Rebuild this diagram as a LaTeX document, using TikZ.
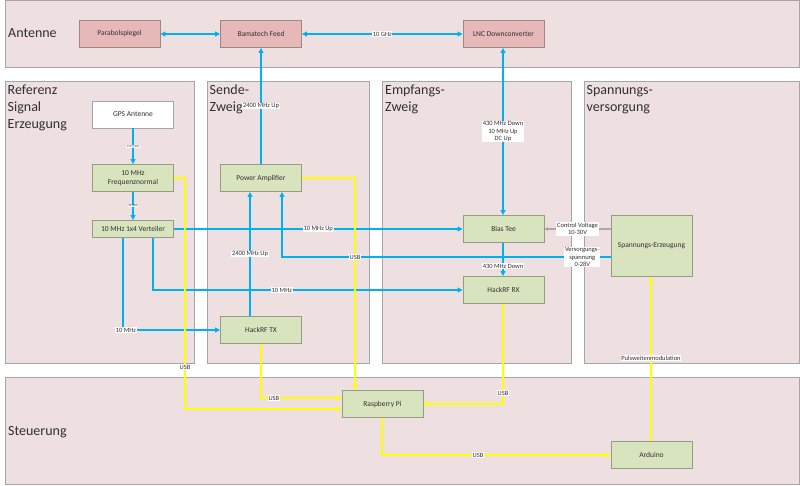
\documentclass[tikz,border=0pt]{standalone}
\usepackage{fontspec}
\setmainfont{Carlito}
\usetikzlibrary{arrows.meta,calc}
\definecolor{panelfill}{HTML}{EEE0E0}
\definecolor{panelline}{HTML}{A6A6A6}
\definecolor{redfill}{HTML}{E6B8B7}
\definecolor{redline}{HTML}{A08585}
\definecolor{greenfill}{HTML}{D7E4BD}
\definecolor{greenline}{HTML}{949C84}
\definecolor{sky}{HTML}{00B0F0}
\definecolor{usbyellow}{HTML}{FFFF00}
\definecolor{ctrlgray}{HTML}{B4A6A6}
\definecolor{txt}{HTML}{303030}
\begin{document}
\begin{tikzpicture}[x=1pt,y=-1pt,
  >={Triangle[length=5pt,width=5pt]},
  panel/.style={draw=panelline, fill=panelfill, line width=0.9pt},
  box/.style={draw, line width=0.9pt, minimum width=81pt, minimum height=27pt, inner sep=0pt,
    font=\fontsize{7.5}{9}\selectfont, align=center, text=txt},
  redbox/.style={box, fill=redfill, draw=redline},
  greenbox/.style={box, fill=greenfill, draw=greenline},
  whitebox/.style={box, fill=white, draw=panelline},
  title/.style={anchor=north west, inner sep=0pt, align=left, font=\fontsize{14}{17}\selectfont, text=txt},
  lab/.style={fill=white, inner sep=0.8pt, font=\fontsize{6.5}{7.5}\selectfont, text=txt, align=center},
  tinylab/.style={fill=white, inner sep=0.5pt, font=\fontsize{3}{3.5}\selectfont, text=txt},
  bl/.style={draw=sky, line width=2pt},
  yl/.style={draw=usbyellow, line width=1.6pt},
  ctrl/.style={draw=ctrlgray, line width=1.2pt, -{Triangle[length=3.5pt,width=3.5pt,fill=black]}}
]
\useasboundingbox (0,0) rectangle (800,485);
% panels
\draw[panel] (5,0.5) rectangle (799,67);
\draw[panel] (5,81) rectangle (194,363);
\draw[panel] (207,81) rectangle (369,363);
\draw[panel] (382,81) rectangle (571,363);
\draw[panel] (584,81) rectangle (799,363);
\draw[panel] (5,377) rectangle (799,484);
% titles
\node[title, anchor=west] (tAnt) at (8,33.5) {Antenne};
\node[title] (tRef) at (7.5,85) {Referenz\\Signal\\Erzeugung};
\node[title] (tSende) at (209.5,85) {Sende-\\Zweig};
\node[title] (tEmpf) at (385,85) {Empfangs-\\Zweig};
\node[title] (tSpan) at (586.5,85) {Spannungs-\\versorgung};
\node[title, anchor=west] (tSteu) at (8,432) {Steuerung};
% nodes
\node[redbox] (parab) at (119.5,34) {Parabolspiegel};
\node[redbox] (feed) at (261,34) {Bamatech Feed};
\node[redbox] (lnc) at (503.5,34) {LNC Downconverter};
\node[whitebox] (gps) at (133,114.5) {GPS Antenne};
\node[greenbox] (fn) at (133,178) {10 MHz\\Frequenznormal};
\node[greenbox, minimum height=17pt] (vt) at (133,229) {10 MHz 1x4 Verteiler};
\node[greenbox] (pa) at (261,178) {Power Amplifier};
\node[greenbox] (tx) at (261,330) {HackRF TX};
\node[greenbox] (bt) at (503.5,229) {Bias Tee};
\node[greenbox] (rx) at (503.5,290) {HackRF RX};
\node[greenbox, minimum height=61pt] (se) at (651.5,245.5) {Spannungs-Erzeugung};
\node[greenbox] (rpi) at (382.5,404) {Raspberry Pi};
\node[greenbox] (ard) at (651.5,455) {Arduino};
% blue connectors
\draw[bl,<->] (parab) -- (feed);
\draw[bl,<->] (feed) -- node[lab]{10 GHz} (lnc);
\draw[bl,->] (pa) -- node[lab]{2400 MHz Up} (feed);
\draw[bl,<->] ($(bt.north)+(-0.5,0)$) -- node[lab]{430 MHz Down\\10 MHz Up\\DC Up} ($(lnc.south)+(-0.5,0)$);
\draw[bl,->] (gps) -- node[tinylab]{1575 MHz} (fn);
\draw[bl,->] (fn) -- node[tinylab]{10 MHz} (vt);
\draw[bl,->] (vt) -- node[lab]{10 MHz Up} (bt);
\draw[bl,->] ($(vt.south)+(-10,0)$) |- node[lab,pos=0.515]{10 MHz} (tx);
\draw[bl,->] ($(vt.south)+(20,0)$) |- node[lab,pos=0.708]{10 MHz} (rx);
\draw[bl,->] ($(tx.north)+(-11,0)$) -- node[lab]{2400 MHz Up} ($(pa.south)+(-11,0)$);
\draw[bl,->] ($(se.west)+(0,11.5)$) -| node[lab,pos=0.043]{Versorgungs-\\spannung\\0-28V} ($(pa.south)+(21,0)$);
\draw[bl,->] ($(bt.south)+(-0.5,0)$) -- node[lab,pos=0.7]{430 MHz Down} ($(rx.north)+(-0.5,0)$);
\draw[ctrl] ($(se.west)+(0,-16.5)$) -- node[lab,pos=0.5]{Control Voltage\\10-30V} ($(bt.east)+(0,0)$);
% yellow connectors
\draw[yl,->] (fn.east) -- ++(11,0) |- node[lab,pos=0.409]{USB} ($(rpi.west)+(0,5)$);
\draw[yl,->] (tx.south) |- node[lab,pos=0.58]{USB} ($(rpi.west)+(0,-6)$);
\draw[yl,->] (pa.east) -| node[lab,pos=0.687]{USB} ($(rpi.north)+(-27.5,0)$);
\draw[yl,->] ($(rx.south)+(-0.5,0)$) |- node[lab,pos=0.446]{USB} (rpi.east);
\draw[yl,->] ($(rpi.south)+(-0.5,0)$) |- node[lab,pos=0.71]{USB} (ard.west);
\draw[yl,->] ($(ard.north)+(-0.5,0)$) -- node[lab,pos=0.503]{Pulsweitenmodulation} ($(se.south)+(-0.5,0)$);
\end{tikzpicture}
\end{document}
